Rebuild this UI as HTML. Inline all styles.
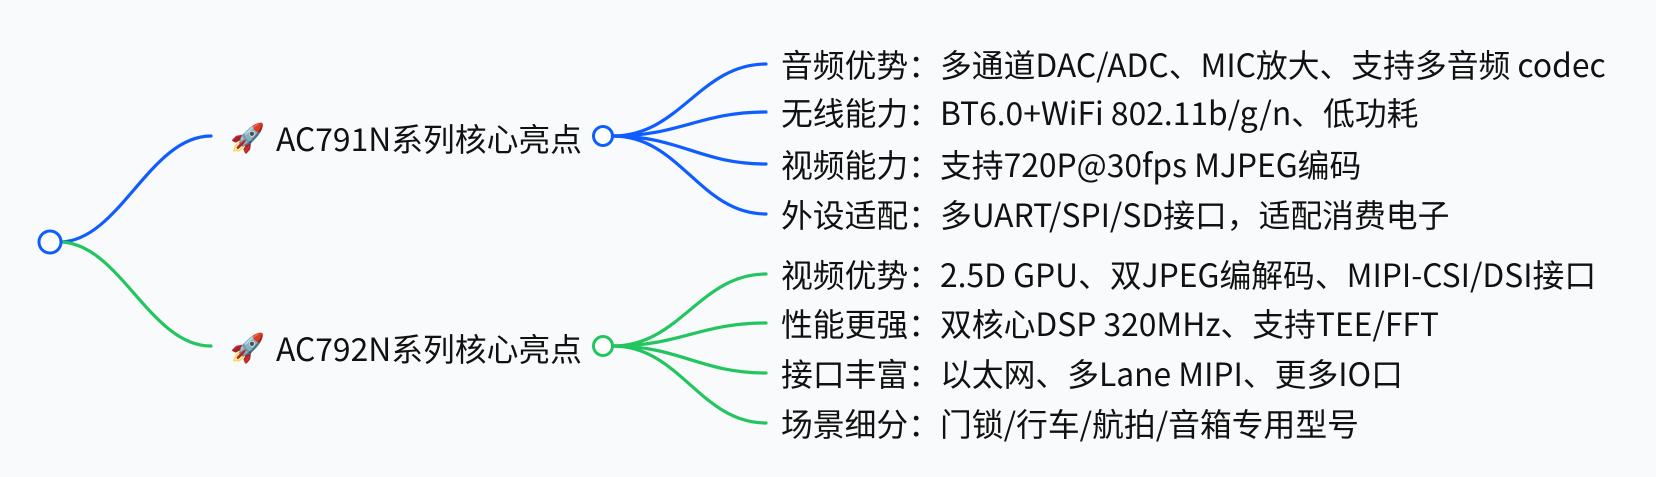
<!DOCTYPE html>
<html><head><meta charset="utf-8"><style>
html,body{margin:0;padding:0;background:#f8fafc;}
svg{display:block;}
text{font-family:"Noto Sans CJK SC","Liberation Sans",sans-serif;font-size:31.8px;fill:#111;dominant-baseline:central;}
</style></head><body>
<svg width="1656" height="477" viewBox="0 0 1656 477" xmlns="http://www.w3.org/2000/svg">
<rect width="1656" height="477" fill="#f8fafc"/>
<g fill="none" stroke-width="3.2" stroke-linecap="round">
<path d="M61 242 C120 240,150 136,211 136" stroke="#0f5cff"/>
<path d="M61 242 C120 244,150 346,211 346" stroke="#22c55e"/>
<g stroke="#0f5cff">
<path d="M613 136 C680 136,700 64,766 64"/>
<path d="M613 136 C680 136,700 112,766 112"/>
<path d="M613 136 C680 136,700 164,766 164"/>
<path d="M613 136 C680 136,700 214,766 214"/>
</g>
<g stroke="#22c55e">
<path d="M613 346 C680 346,700 274,766 274"/>
<path d="M613 346 C680 346,700 323,766 323"/>
<path d="M613 346 C680 346,700 373,766 373"/>
<path d="M613 346 C680 346,700 423,766 423"/>
</g>
</g>
<circle cx="50" cy="242" r="11" fill="#fff" stroke="#0f5cff" stroke-width="3"/>
<circle cx="603" cy="136" r="9.5" fill="#fff" stroke="#0f5cff" stroke-width="3"/>
<circle cx="603" cy="346" r="9.5" fill="#fff" stroke="#22c55e" stroke-width="3"/>
<text x="230" y="138" style="font-family:'Noto Color Emoji','DejaVu Sans',sans-serif;font-size:28px">🚀</text>
<text x="276" y="138">AC791N系列核心亮点</text>
<text x="230" y="348" style="font-family:'Noto Color Emoji','DejaVu Sans',sans-serif;font-size:28px">🚀</text>
<text x="276" y="348">AC792N系列核心亮点</text>
<text x="781" y="64">音频优势：多通道DAC/ADC、MIC放大、支持多音频 codec</text>
<text x="781" y="112">无线能力：BT6.0+WiFi 802.11b/g/n、低功耗</text>
<text x="781" y="164">视频能力：支持720P@30fps MJPEG编码</text>
<text x="781" y="214">外设适配：多UART/SPI/SD接口，适配消费电子</text>
<text x="781" y="274">视频优势：2.5D GPU、双JPEG编解码、MIPI-CSI/DSI接口</text>
<text x="781" y="323">性能更强：双核心DSP 320MHz、支持TEE/FFT</text>
<text x="781" y="373">接口丰富：以太网、多Lane MIPI、更多IO口</text>
<text x="781" y="423">场景细分：门锁/行车/航拍/音箱专用型号</text>
</svg>
</body></html>
